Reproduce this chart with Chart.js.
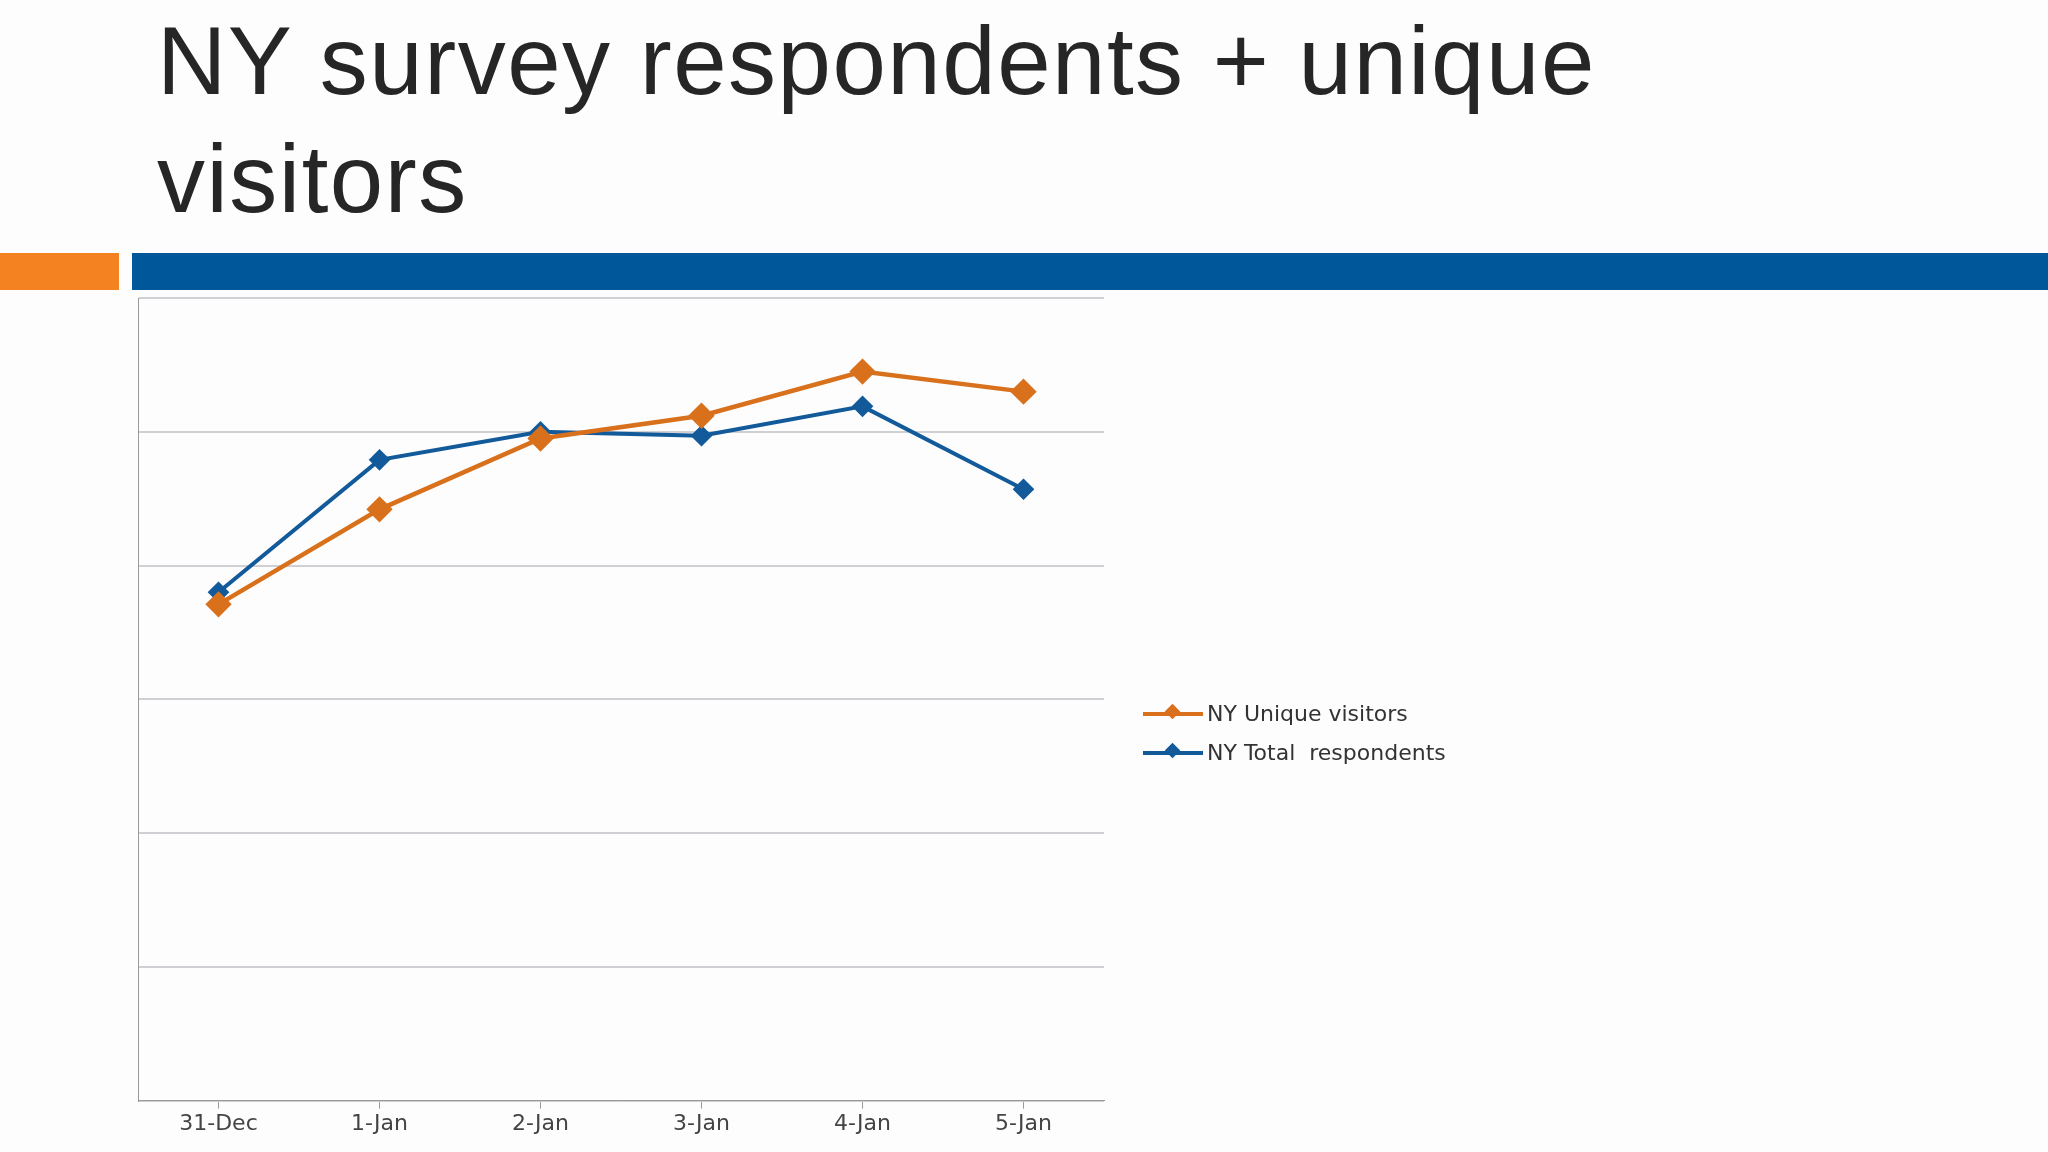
<!DOCTYPE html>
<html>
<head>
<meta charset="utf-8">
<script src="https://cdn.jsdelivr.net/npm/chart.js@4"></script>
<style>
  body { margin: 0; width: 2048px; height: 1152px; background: #fdfdfe; position: relative; overflow: hidden; font-family: "Liberation Sans", Arial, sans-serif; }
  #title { position: absolute; left: 157px; top: 2px; font-size: 96px; line-height: 118px; letter-spacing: 1.5px; color: #262626; }
  .bar { position: absolute; top: 253px; height: 37px; }
  #wrap { position: absolute; left: 0; top: 280px; width: 2048px; height: 872px; }
  #legend { position: absolute; left: 1143px; top: 694px; font-family: "DejaVu Sans", sans-serif; font-size: 22px; color: #333; }
  .item { display: flex; align-items: center; height: 39px; }
  .sw { position: relative; width: 60px; height: 4px; margin-right: 4px; }
  .sw i { position: absolute; left: 24px; top: -6px; width: 11px; height: 11px; transform: rotate(45deg); }
</style>
</head>
<body>
<div id="title">NY survey respondents + unique<br>visitors</div>
<div class="bar" style="left:0;width:119px;background:#f58220"></div>
<div class="bar" style="left:132px;width:1916px;background:#00579a"></div>
<div id="wrap"><canvas id="c"></canvas></div>
<div id="legend">
  <div class="item"><div class="sw" style="background:#d8701c"><i style="background:#d8701c"></i></div>NY Unique visitors</div>
  <div class="item"><div class="sw" style="background:#125a9a"><i style="background:#125a9a"></i></div>NY Total&nbsp; respondents</div>
</div>
<script>
var categories = ["31-Dec", "1-Jan", "2-Jan", "3-Jan", "4-Jan", "5-Jan"];
var uniqueVisitors = [3.71, 4.42, 4.95, 5.12, 5.45, 5.30];
var totalRespondents = [3.80, 4.79, 5.00, 4.97, 5.19, 4.57];
var orange = "#d8701c", blue = "#125a9a";

new Chart(document.getElementById("c"), {
    type: "line",
    data: {
        labels: categories,
        datasets: [
            { label: "NY Unique visitors", data: uniqueVisitors, borderColor: orange, backgroundColor: orange, borderWidth: 4.5, pointStyle: "rectRot", pointRadius: 10, tension: 0 },
            { label: "NY Total  respondents", data: totalRespondents, borderColor: blue, backgroundColor: blue, borderWidth: 4, pointStyle: "rectRot", pointRadius: 8, tension: 0 },
        ],
    },
    options: {
        animation: false,
        responsive: true,
        maintainAspectRatio: false,
        layout: { padding: { left: 138, right: 944, top: 18, bottom: 13 } },
        scales: {
            x: {
                offset: true,
                grid: { display: true, drawOnChartArea: false, color: "#999", tickLength: 8 },
                border: { color: "#999" },
                ticks: { color: "#444", font: { family: "DejaVu Sans", size: 22 }, padding: 2 },
            },
            y: {
                min: 0, max: 6,
                ticks: { display: false, stepSize: 1 },
                grid: { color: "#cfcfd4", lineWidth: 2, tickLength: 0 },
                border: { color: "#999" },
            },
        },
        plugins: { legend: { display: false }, tooltip: { enabled: false } },
    },
});
</script>
</body>
</html>
